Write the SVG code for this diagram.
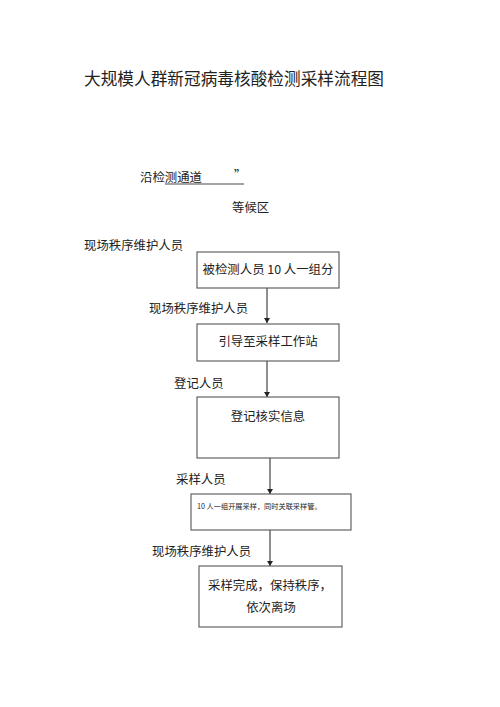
<svg xmlns="http://www.w3.org/2000/svg" width="500" height="707" viewBox="0 0 500 707">
<style>
.t{font-family:"Noto Sans CJK SC","Liberation Sans",sans-serif;fill:#222}
.s{font-family:"Noto Sans CJK SC","Liberation Serif",serif;fill:#222;font-size:12.4px}
.b{fill:#fff;stroke:#555;stroke-width:1.1}
.c{stroke:#333;stroke-width:1.1;fill:none}
</style>
<defs>
<marker id="ah" markerWidth="6" markerHeight="6" refX="5" refY="3" orient="auto" markerUnits="userSpaceOnUse">
<path d="M0,0 L5,3 L0,6 z" fill="#222"/>
</marker>
</defs>
<rect width="500" height="707" fill="#fff"/>
<text class="t" x="84" y="85" font-size="16.6" textLength="300" lengthAdjust="spacingAndGlyphs">大规模人群新冠病毒核酸检测采样流程图</text>
<g id="header">
<text class="s" x="140" y="182">沿检测通道</text>
<line x1="165" y1="184" x2="244" y2="184" stroke="#333" stroke-width="0.9"/>
<text class="s" x="234" y="180">”</text>
<text class="s" x="232" y="212">等候区</text>
<text class="s" x="84" y="250">现场秩序维护人员</text>
</g>
<g id="connectors">
<line class="c" x1="267" y1="288" x2="267" y2="323" marker-end="url(#ah)"/>
<line class="c" x1="267" y1="361" x2="267" y2="397" marker-end="url(#ah)"/>
<line class="c" x1="270" y1="458" x2="270" y2="494" marker-end="url(#ah)"/>
<line class="c" x1="270" y1="530" x2="270" y2="566" marker-end="url(#ah)"/>
<text class="s" x="149" y="313">现场秩序维护人员</text>
<text class="s" x="174" y="388">登记人员</text>
<text class="s" x="176" y="484">采样人员</text>
<text class="s" x="152" y="556">现场秩序维护人员</text>
</g>
<g id="n1">
<rect class="b" x="197" y="252" width="142" height="36"/>
<text class="s" x="268" y="274" text-anchor="middle">被检测人员 10 人一组分</text>
</g>
<g id="n2">
<rect class="b" x="197" y="324" width="142" height="37"/>
<text class="s" x="268" y="346" text-anchor="middle">引导至采样工作站</text>
</g>
<g id="n3">
<rect class="b" x="197" y="397" width="142" height="61"/>
<text class="s" x="268" y="421" text-anchor="middle">登记核实信息</text>
</g>
<g id="n4">
<rect class="b" x="191" y="494" width="160" height="36"/>
<text class="s" x="197" y="509" style="font-size:7.2px">10 人一组开展采样，同时关联采样管。</text>
</g>
<g id="n5">
<rect class="b" x="199" y="566" width="143" height="61"/>
<text class="s" x="270" y="590" text-anchor="middle">采样完成，保持秩序，</text>
<text class="s" x="271" y="612" text-anchor="middle">依次离场</text>
</g>
</svg>
